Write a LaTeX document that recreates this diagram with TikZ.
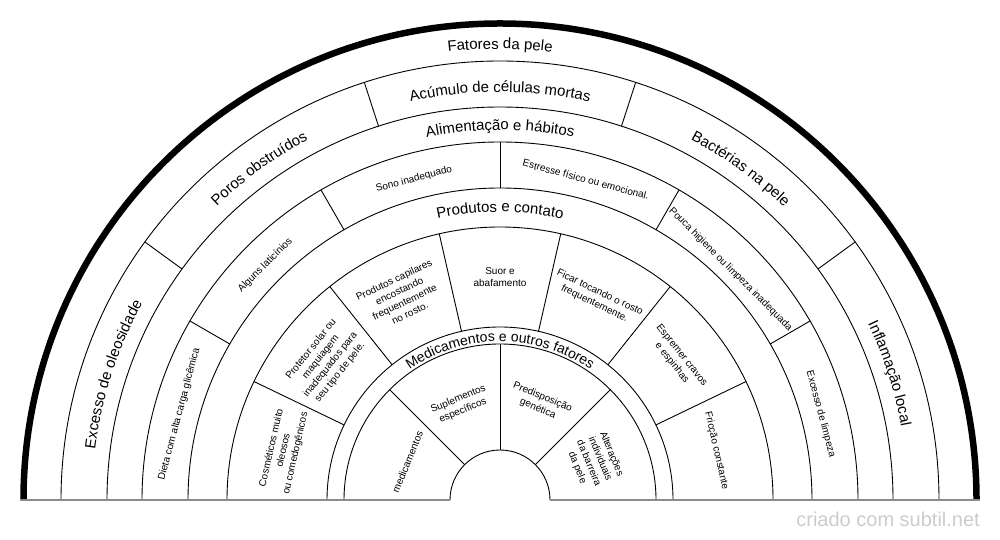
\documentclass[tikz,border=0pt]{standalone}
\usepackage{fontspec}
\setmainfont{Liberation Sans}
\usetikzlibrary{calc,decorations.text}
\newcommand{\bigfont}{\fontsize{15}{18}\selectfont}
\newcommand{\medfont}{\fontsize{14}{17}\selectfont}
\newcommand{\arctext}[5]{%
  \path[decorate,decoration={text along path,text align=center,text={|#4|#5}}]
    ($(C)+(#2:#1)$) arc[start angle=#2,end angle=#3,radius=#1];}
\begin{document}
\begin{tikzpicture}[x=1pt,y=1pt,
  ring/.style={line width=0.9pt},
  sub/.style={font=\fontsize{10}{12.3}\selectfont, align=center, inner sep=0pt},
]
\useasboundingbox (0,0) rectangle (1000,540);
\coordinate (C) at (500,40);

% rings
\foreach \r in {439,393,358,312,273,173,156,50}
  \draw[ring] ($(C)+(180:\r)$) arc[start angle=180,end angle=0,radius=\r];
\draw[line width=6.5pt] ($(C)+(180:476.5)$) arc[start angle=180,end angle=0,radius=476.5];

% base line
\draw[gray!90, line width=1.2pt] ($(C)+(-479.75,0)$) -- ($(C)+(-50,0)$);
\draw[gray!90, line width=1.2pt] ($(C)+(50,0)$) -- ($(C)+(479.75,0)$);

% dividers
\foreach \a in {36,72,108,144}
  \draw[ring] ($(C)+(\a:393)$) -- ($(C)+(\a:439)$);
\foreach \a in {30,60,90,120,150}
  \draw[ring] ($(C)+(\a:312)$) -- ($(C)+(\a:358)$);
\foreach \k in {1,...,6}
  \draw[ring] ($(C)+({\k*180/7}:173)$) -- ($(C)+({\k*180/7}:273)$);
\foreach \a in {45,90,135}
  \draw[ring] ($(C)+(\a:50)$) -- ($(C)+(\a:156)$);

% labels along arcs
\arctext{451}{180}{0}{\bigfont}{Fatores da pele}
\arctext{408}{180}{144}{\bigfont}{Excesso de oleosidade}
\arctext{408}{144}{108}{\bigfont}{Poros obstruídos}
\arctext{408}{108}{72}{\bigfont}{Acúmulo de células mortas}
\arctext{408}{72}{36}{\bigfont}{Bactérias na pele}
\arctext{408}{36}{0}{\bigfont}{Inflamação local}
\arctext{370}{180}{0}{\bigfont}{Alimentação e hábitos}
\arctext{288}{180}{0}{\bigfont}{Produtos e contato}
\arctext{158.5}{180}{0}{\medfont}{Medicamentos e outros fatores}

% band D
\node[sub, rotate=75] (dieta) at ($(C)+(165:332)$) {Dieta com alta carga glicêmica};
\node[sub, rotate=45] (laticinios) at ($(C)+(135:332)$) {Alguns laticínios};
\node[sub, rotate=15] (sono) at ($(C)+(105:332)$) {Sono inadequado};
\node[sub, rotate=-15] (estresse) at ($(C)+(75:332)$) {Estresse físico ou emocional.};
\node[sub, rotate=-45] (higiene) at ($(C)+(45:326)$) {Pouca higiene ou limpeza inadequada};
\node[sub, rotate=-75] (excessolimpeza) at ($(C)+(15:332)$) {Excesso de limpeza};

% band F
\node[sub, rotate=77.143] (cosmeticos) at ($(C)+(167.143:222)$) {Cosméticos muito\\oleosos\\ou comedogênicos};
\node[sub, rotate=51.429] (protetor) at ($(C)+(141.429:223)$) {Protetor solar ou\\maquiagem\\inadequados para\\seu tipo de pele.};
\node[sub, rotate=25.714] (capilares) at ($(C)+(115.714:226)$) {Produtos capilares\\encostando\\frequentemente\\no rosto.};
\node[sub] (suor) at ($(C)+(90:223)$) {Suor e\\abafamento};
\node[sub, rotate=-25.714] (tocando) at ($(C)+(64.286:224)$) {Ficar tocando o rosto\\frequentemente.};
\node[sub, rotate=-51.429] (espremer) at ($(C)+(38.571:226)$) {Espremer cravos\\e espinhas};
\node[sub, rotate=-77.143] (friccao) at ($(C)+(12.857:222)$) {Fricção constante};

% band H
\node[sub, rotate=67.5] (medicamentos) at ($(C)+(157.5:100)$) {medicamentos};
\node[sub, rotate=22.5] (suplementos) at ($(C)+(112.5:103)$) {Suplementos\\específicos};
\node[sub, rotate=-22.5] (predisposicao) at ($(C)+(67.5:105)$) {Predisposição\\genética};
\node[sub, rotate=-67.5] (alteracoes) at ($(C)+(22.5:102)$) {Alterações\\individuais\\da barreira\\da pele};

% credit
\node[anchor=east, text=gray!40, font=\fontsize{20}{23}\selectfont, inner sep=0pt] (credit) at (980,21) {criado com subtil.net};
\end{tikzpicture}
\end{document}
